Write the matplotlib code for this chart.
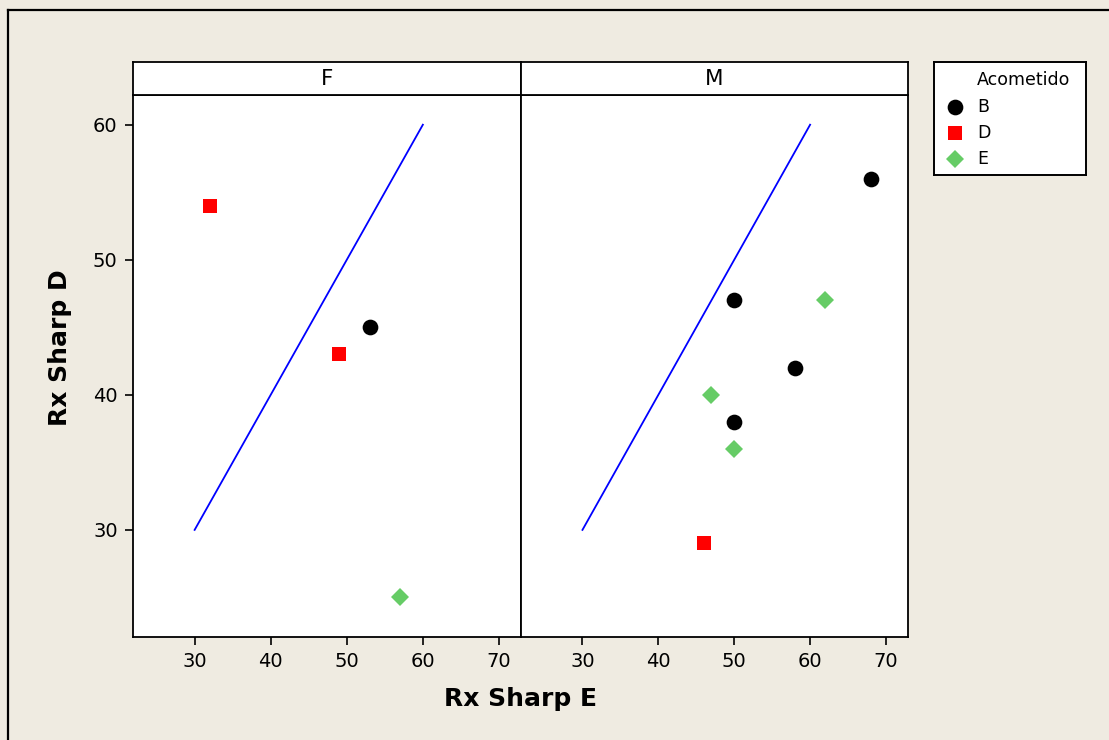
import matplotlib
matplotlib.use("Agg")
import matplotlib.pyplot as plt
from matplotlib.lines import Line2D
from matplotlib.patches import Rectangle

# ---- data ----
panels = ["F", "M"]
groups = ["B", "D", "E"]
legend_title = "Acometido"
F_B_x = [53]; F_B_y = [45]
F_D_x = [32, 49]; F_D_y = [54, 43]
F_E_x = [57]; F_E_y = [25]
M_B_x = [68, 50, 58, 50]; M_B_y = [56, 47, 42, 38]
M_D_x = [46]; M_D_y = [29]
M_E_x = [62, 47, 50]; M_E_y = [47, 40, 36]
ref_x = [30, 60]; ref_y = [30, 60]
xticks = [30, 40, 50, 60, 70]
yticks = [30, 40, 50, 60]

data = {
    "F": {"B": (F_B_x, F_B_y), "D": (F_D_x, F_D_y), "E": (F_E_x, F_E_y)},
    "M": {"B": (M_B_x, M_B_y), "D": (M_D_x, M_D_y), "E": (M_E_x, M_E_y)},
}
styles = {
    "B": dict(marker="o", color="black", ms=11.3),
    "D": dict(marker="s", color="#FF0000", ms=10),
    "E": dict(marker="D", color="#66CC66", ms=9.2),
}

W, H = 1109, 740
bg = "#EFEBE1"
plt.rcParams["font.family"] = ["DejaVu Sans"]
fig = plt.figure(figsize=(W / 100, H / 100), dpi=100, facecolor=bg)

def fx(px): return px / W
def fy(py): return 1 - py / H

# outer frame (top and left edges only visible)
fig.add_artist(Line2D([fx(8), fx(8)], [fy(10), 0], transform=fig.transFigure, color="black", lw=1.6))
fig.add_artist(Line2D([fx(8), 1], [fy(10), fy(10)], transform=fig.transFigure, color="black", lw=1.6))

lefts = [133, 521]
rights = [521, 908]
top_plot, bot_plot, top_strip = 95, 637, 62

for i, p in enumerate(panels):
    ax = fig.add_axes([fx(lefts[i]), fy(bot_plot), fx(rights[i]) - fx(lefts[i]), fy(top_plot) - fy(bot_plot)])
    ax.set_facecolor("white")
    ax.plot(ref_x, ref_y, color="#0000FF", lw=1.3, zorder=2)
    for g in groups:
        xs, ys = data[p][g]
        st = styles[g]
        ax.plot(xs, ys, linestyle="none", marker=st["marker"], color=st["color"],
                markersize=st["ms"], markeredgewidth=0, zorder=3)
    ax.set_xlim(21.9, 72.9)
    ax.set_ylim(22.07, 62.2)
    ax.set_xticks(xticks)
    ax.set_yticks(yticks)
    ax.tick_params(axis="both", direction="out", length=6, width=1.2, labelsize=14, colors="black", pad=5)
    for s in ax.spines.values():
        s.set_linewidth(1.3)
        s.set_color("black")
    if i == 1:
        ax.tick_params(axis="y", left=False, labelleft=False)
    # strip
    sx = fig.add_axes([fx(lefts[i]), fy(top_plot), fx(rights[i]) - fx(lefts[i]), fy(top_strip) - fy(top_plot)])
    sx.set_facecolor("white")
    sx.set_xticks([]); sx.set_yticks([])
    for s in sx.spines.values():
        s.set_linewidth(1.3)
    sx.text(0.5, 0.48, p, ha="center", va="center", fontsize=15.5, transform=sx.transAxes)

fig.text(fx(520), fy(699), "Rx Sharp E", ha="center", va="center", fontsize=18, fontweight="bold")
fig.text(fx(60), fy(348), "Rx Sharp D", ha="center", va="center", fontsize=18, fontweight="bold", rotation=90)

# legend box drawn in its own axes (pixel layout of the reference)
lx0, lx1, ly0, ly1 = 934, 1086, 62, 175
lax = fig.add_axes([fx(lx0), fy(ly1), fx(lx1) - fx(lx0), fy(ly0) - fy(ly1)])
lax.set_xlim(lx0, lx1)
lax.set_ylim(ly1, ly0)
lax.set_xticks([]); lax.set_yticks([])
lax.set_facecolor("white")
for s in lax.spines.values():
    s.set_linewidth(1.4)
lax.text(977, 80, legend_title, ha="left", va="center", fontsize=12.5)
for k, g in enumerate(groups):
    yy = 107 + 26 * k
    st = styles[g]
    lax.plot([955], [yy], linestyle="none", marker=st["marker"], color=st["color"],
             markersize=st["ms"], markeredgewidth=0, clip_on=False)
    lax.text(977, yy, g, ha="left", va="center", fontsize=12.5)

fig.savefig("out.png", dpi=100, facecolor=bg)
